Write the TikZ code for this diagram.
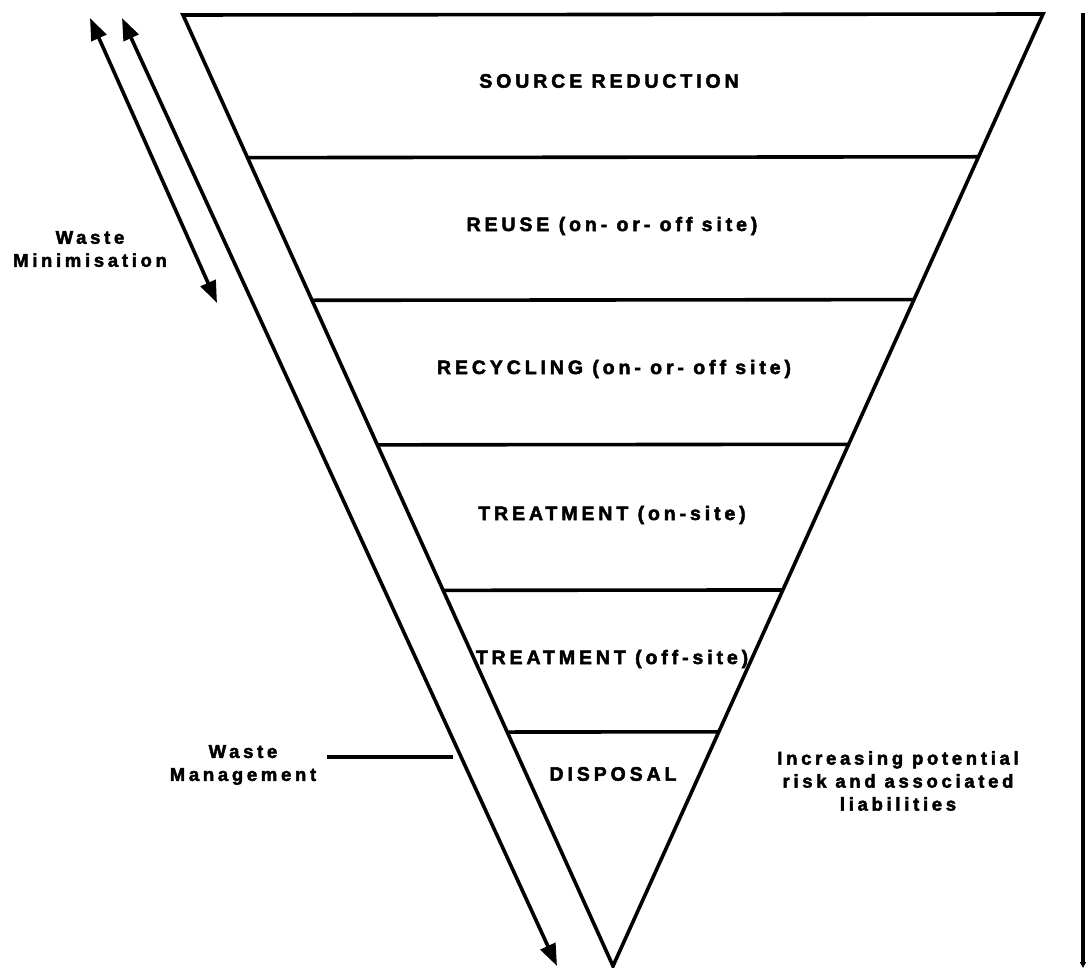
\documentclass[tikz,border=0pt]{standalone}
\usepackage{fontspec}
\newfontfamily\pyrfont[LetterSpace=20,FakeBold=2.5]{Liberation Sans Bold}
\usetikzlibrary{arrows.meta,calc}
\tikzset{
  level/.style={font=\pyrfont\fontsize{19.5}{23}\selectfont},
  side/.style={font=\pyrfont\fontsize{18.5}{23}\selectfont, align=center},
}
\begin{document}
\begin{tikzpicture}[>={Triangle[length=22pt,width=16pt]}, x=1pt, y=-1pt, line width=3.6pt, color=black]
		\useasboundingbox (0,0) rectangle (1086,968);
		% inverted pyramid
		\coordinate (TL) at (183,15);
		\coordinate (TR) at (1043,14);
		\coordinate (Ap) at (613,966);
		\draw[line join=miter] (TL) -- (TR) -- (Ap) -- cycle;
		\foreach \t in {0.150,0.300,0.452,0.605,0.754}
			\draw ($(TL)!\t!(Ap)$) -- ($(TR)!\t!(Ap)$);
		% level labels
		\node[level] (src) at (609,81) {SOURCE REDUCTION};
		\node[level] (reu) at (612,226) {REUSE (on- or- off site)};
		\node[level] (rec) at (614,369) {RECYCLING (on- or- off site)};
		\node[level] (ton) at (612,515) {TREATMENT (on-site)};
		\node[level] (tof) at (612,659) {TREATMENT (off-site)};
		\node[level] (dis) at (613,774) {DISPOSAL};
		% side arrows
		\coordinate (m1) at (90,18);
		\coordinate (m2) at (217,303);
		\coordinate (w1) at (122,18);
		\coordinate (w2) at (557,966);
		\draw[<->] (m1) -- (m2);
		\draw[<->] (w1) -- (w2);
		\node[side] (min) at (90,249) {Waste\\Minimisation};
		\node[side] (man) at (243,765) {Waste\\Management};
		\coordinate (l1) at (327,757);
		\coordinate (l2) at (453,757);
		\draw (l1) -- (l2);
		% risk arrow
		\coordinate (r1) at (1083,13);
		\coordinate (r2) at (1083,968);
		\draw[->, >={Triangle[length=6pt,width=6pt]}] (r1) -- (r2);
		\node[side] (risk) at (898,781) {Increasing potential\\risk and associated\\liabilities};
\end{tikzpicture}
\end{document}
